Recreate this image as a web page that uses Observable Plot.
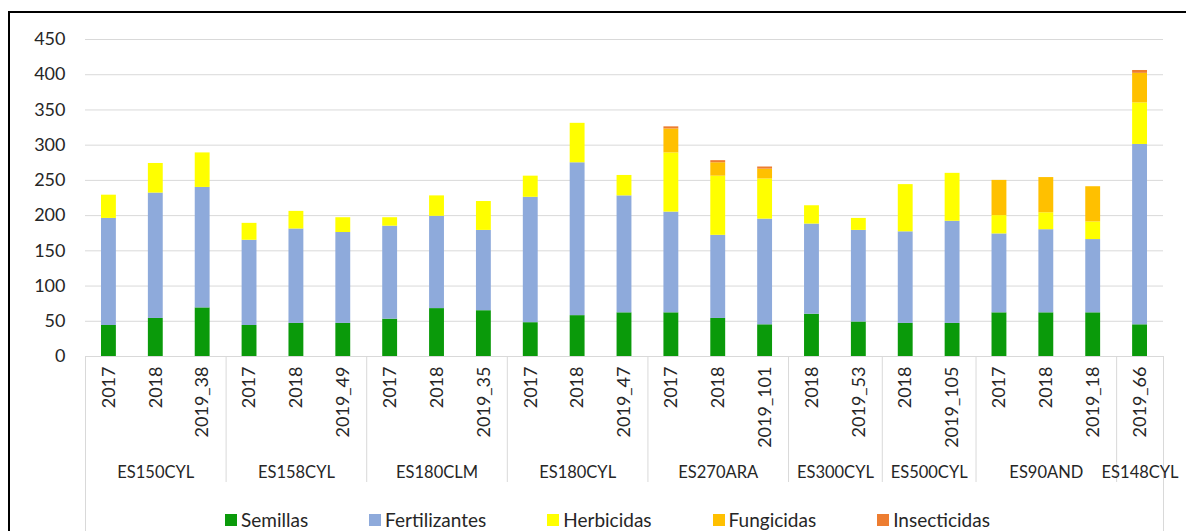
<!DOCTYPE html>
<html>
<head>
<meta charset="utf-8">
<script src="https://cdn.jsdelivr.net/npm/d3@7"></script>
<script src="https://cdn.jsdelivr.net/npm/@observablehq/plot@0.6"></script>
<style>
  html, body { margin: 0; padding: 0; background: #fff; overflow: hidden; width: 1186px; height: 531px; }
  #frame { position: absolute; left: 8px; top: 11px; width: 1200px; height: 560px; border-left: 2px solid #000; border-top: 2px solid #000; }
  #chart { position: absolute; left: 0; top: 0; }
  #legend { position: absolute; left: 215px; top: 496px; display: flex; gap: 61px; font-family: Lato, sans-serif; font-size: 19px; color: #262626; line-height: 22px; }
  #legend .item { display: flex; align-items: center; }
  #legend .sw { width: 12px; height: 12px; margin-right: 4px; display: inline-block; }
</style>
</head>
<body>
<div id="frame"><div id="chart"></div><div id="legend"></div></div>
<script>
const groups = ["ES150CYL", "ES158CYL", "ES180CLM", "ES180CYL", "ES270ARA", "ES300CYL", "ES500CYL", "ES90AND", "ES148CYL"];
const groupSizes = [3, 3, 3, 3, 3, 2, 2, 3, 1];
const barLabels = ["2017", "2018", "2019_38", "2017", "2018", "2019_49", "2017", "2018", "2019_35",
  "2017", "2018", "2019_47", "2017", "2018", "2019_101", "2018", "2019_53", "2018", "2019_105",
  "2017", "2018", "2019_18", "2019_66"];
const seriesNames = ["Semillas", "Fertilizantes", "Herbicidas", "Fungicidas", "Insecticidas"];
const seriesColors = ["#0a9a0a", "#8eaadb", "#ffff00", "#ffc000", "#ed7d31"];
const semillas      = [44, 54, 69, 44, 47, 47, 53, 68, 65, 48, 58, 62, 62, 54, 45, 60, 49, 47, 47, 62, 62, 62, 45];
const fertilizantes = [152, 178, 171, 121, 134, 129, 132, 131, 114, 178, 217, 166, 143, 118, 150, 128, 130, 130, 145, 112, 118, 104, 256];
const herbicidas    = [33, 42, 49, 24, 25, 21, 12, 29, 41, 30, 56, 29, 84, 84, 57, 26, 17, 67, 68, 26, 24, 25, 59];
const fungicidas    = [0, 0, 0, 0, 0, 0, 0, 0, 0, 0, 0, 0, 34, 19, 14, 0, 0, 0, 0, 50, 50, 50, 42];
const insecticidas  = [0, 0, 0, 0, 0, 0, 0, 0, 0, 0, 0, 0, 3, 3, 3, 0, 0, 0, 0, 0, 0, 0, 4];
const yTicks = [0, 50, 100, 150, 200, 250, 300, 350, 400, 450];

const seriesValues = [semillas, fertilizantes, herbicidas, fungicidas, insecticidas];
const rows = [];
barLabels.forEach((lab, i) => {
  seriesNames.forEach((s, k) => {
    const v = seriesValues[k][i];
    if (v > 0) rows.push({x1: i, x2: i + 1, series: s, value: v});
  });
});
// group boundaries and centers (in bar-index units)
const starts = [];
let acc = 0;
groupSizes.forEach(n => { starts.push(acc); acc += n; });
const nBars = acc;
const innerBounds = starts.slice(1);
const outerBounds = [0, nBars];
const groupCenters = starts.map((s, g) => s + groupSizes[g] / 2);
const barCenters = barLabels.map((_, i) => i + 0.5);

const font = "Lato, sans-serif";
const txt = "#262626";
const plot = Plot.plot({
  width: 1176,
  height: 518,
  marginLeft: 75,
  marginRight: 23,
  marginTop: 26,
  marginBottom: 175,
  style: {fontFamily: font, background: "transparent"},
  x: {domain: [0, nBars], label: null},
  y: {domain: [0, 450], label: null},
  color: {domain: seriesNames, range: seriesColors},
  marks: [
    Plot.gridY({ticks: yTicks, stroke: "#d9d9d9", strokeOpacity: 1}),
    Plot.axisY({ticks: yTicks, tickSize: 0, tickPadding: 20, fontSize: 18, fill: txt, label: null}),
    Plot.rectY(rows, Plot.stackY({x1: "x1", x2: "x2", y: "value", fill: "series", insetLeft: 16, insetRight: 16})),
    Plot.axisX({ticks: barCenters, tickFormat: t => barLabels[Math.floor(t)], tickSize: 0, tickPadding: 10, tickRotate: -90, fontSize: 18, fill: txt, label: null}),
    Plot.axisX({ticks: innerBounds, tickFormat: () => "", tickSize: 126, stroke: "#d9d9d9", strokeOpacity: 1, label: null}),
    Plot.axisX({ticks: outerBounds, tickFormat: () => "", tickSize: 175, stroke: "#d9d9d9", strokeOpacity: 1, label: null}),
    Plot.axisX({ticks: groupCenters, tickFormat: t => groups[groupCenters.indexOf(t)], tickSize: 0, tickPadding: 110, fontSize: 16.5, fill: txt, label: null})
  ]
});
document.getElementById("chart").appendChild(plot);

const legend = document.getElementById("legend");
seriesNames.forEach((s, k) => {
  const item = document.createElement("div");
  item.className = "item";
  const sw = document.createElement("span");
  sw.className = "sw";
  sw.style.background = seriesColors[k];
  const t = document.createElement("span");
  t.textContent = s;
  item.appendChild(sw);
  item.appendChild(t);
  legend.appendChild(item);
});
</script>
</body>
</html>
